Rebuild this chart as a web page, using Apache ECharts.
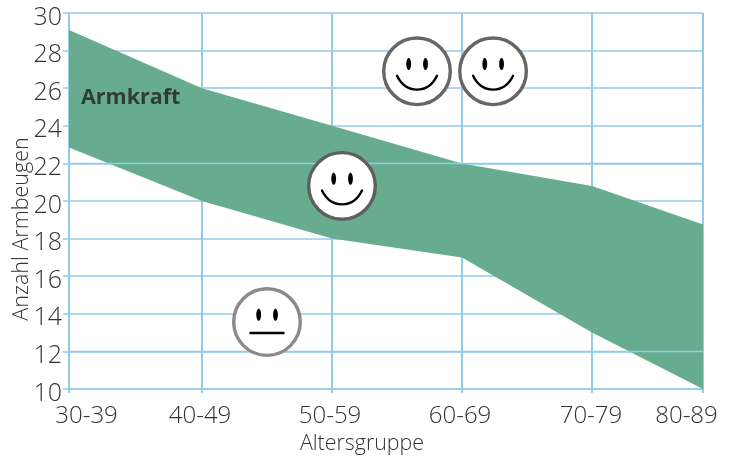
<!DOCTYPE html>
<html>
<head>
<meta charset="utf-8">
<style>html,body{margin:0;padding:0;background:#fff}#c{width:733px;height:457px}</style>
<script src="https://cdn.jsdelivr.net/npm/echarts@6/dist/echarts.min.js"></script>
</head>
<body>
<div id="c"></div>
<script>
// Armkraft norm band by age group
const ageGroups = ['30-39', '40-49', '50-59', '60-69', '70-79', '80-89'];
const groupPositions = [30, 40.23, 50.23, 60.23, 70.23, 78.77];
const labelPositions = [31.35, 40.08, 50.08, 60.08, 70.15, 77.5];
const upperBound = [29.1, 26, 24, 22, 20.8, 18.75];
const lowerBound = [22.85, 20, 18, 17, 13, 10];
const overlayLevels = [22, 12];
const happyFaces = [[51, 20.8, '#5f5f5f'], [56.77, 26.9, '#666666'], [62.62, 26.9, '#666666']];
const neutralFaces = [[45.23, 13.56, '#8a8a8a']];
const bandTitle = [[30.92, 25.48, 'Armkraft']];

const gridBlue = '#93cbe8';
const bandGreen = '#67ac8f';
const inkGrey = '#333333';
const numFont = '"Open Sans", sans-serif';

function faceItem(kind) {
  return function (params, api) {
    const c = api.coord([api.value(0), api.value(1)]);
    const ring = api.value(2);
    const kids = [
      { type: 'circle', shape: { cx: 0, cy: 0, r: 33.3 }, style: { fill: '#fff', stroke: ring, lineWidth: 3.4 } },
      { type: 'ellipse', shape: { cx: -8.3, cy: -7.3, rx: 2.4, ry: 6 }, style: { fill: '#000' } },
      { type: 'ellipse', shape: { cx: 8.5, cy: -7.3, rx: 2.4, ry: 6 }, style: { fill: '#000' } }
    ];
    if (kind === 'happy') {
      kids.push({
        type: 'bezierCurve',
        shape: { x1: -20, y1: 4.5, cpx1: -11, cpy1: 23, cpx2: 11, cpy2: 23, x2: 20, y2: 4.5 },
        style: { fill: 'none', stroke: '#000', lineWidth: 2.4, lineCap: 'round' }
      });
    } else {
      kids.push({
        type: 'line',
        shape: { x1: -17.5, y1: 11, x2: 17.5, y2: 11 },
        style: { stroke: '#000', lineWidth: 2.4 }
      });
    }
    return { type: 'group', x: c[0], y: c[1], children: kids };
  };
}

const chart = echarts.init(document.getElementById('c'), null, { renderer: 'canvas' });
chart.setOption({
  animation: false,
  backgroundColor: '#fff',
  grid: { left: 69, right: 30, top: 13, bottom: 68, outerBoundsMode: 'none' },
  xAxis: {
    type: 'value',
    min: 30,
    max: 78.77,
    name: 'Altersgruppe',
    nameLocation: 'middle',
    nameGap: 44,
    nameTextStyle: { fontFamily: numFont, fontSize: 21.4, color: inkGrey, fontWeight: 300, padding: [0, 48, 0, 0] },
    axisLine: { show: true, lineStyle: { color: gridBlue, width: 1.5 } },
    axisTick: { show: true, length: 4, customValues: groupPositions, lineStyle: { color: gridBlue, width: 2 } },
    axisLabel: {
      customValues: labelPositions,
      hideOverlap: false,
      margin: 15,
      fontFamily: numFont,
      fontSize: 24,
      fontWeight: 300,
      color: inkGrey,
      formatter: (v) => ageGroups[labelPositions.indexOf(v)] || ''
    },
    splitLine: { show: false }
  },
  yAxis: {
    type: 'value',
    min: 10,
    max: 30,
    interval: 2,
    name: 'Anzahl Armbeugen',
    nameLocation: 'middle',
    nameMoveOverlap: false,
    nameGap: 36,
    nameTextStyle: { fontFamily: numFont, fontSize: 21.5, color: inkGrey, fontWeight: 300, padding: [0, 56, 0, 0] },
    axisLine: { show: true, lineStyle: { color: gridBlue, width: 1.5 } },
    axisTick: { show: true, length: 6, lineStyle: { color: gridBlue, width: 1.5 } },
    axisLabel: {
      margin: 7,
      formatter: '{n|{value}}',
      rich: { n: { fontFamily: numFont, fontSize: 25, fontWeight: 300, color: inkGrey, padding: [9, 0, 0, 0] } }
    },
    splitLine: { show: true, lineStyle: { color: gridBlue, width: 1.5 } }
  },
  series: [
    {
      // vertical gridlines at the age-group positions
      type: 'custom',
      silent: true,
      z: 1,
      data: groupPositions.map((x) => [x]),
      renderItem: (params, api) => {
        const top = api.coord([api.value(0), 30]);
        const bottom = api.coord([api.value(0), 10]);
        return {
          type: 'line',
          shape: { x1: top[0], y1: top[1], x2: bottom[0], y2: bottom[1] },
          style: { stroke: gridBlue, lineWidth: 2 }
        };
      }
    },
    {
      // band between the lower and upper norm limits, one closed outline
      type: 'custom',
      silent: true,
      z: 2,
      data: [[30]],
      renderItem: (params, api) => {
        const top = groupPositions.map((x, i) => api.coord([x, upperBound[i]]));
        const bottom = groupPositions.map((x, i) => api.coord([x, lowerBound[i]])).reverse();
        return {
          type: 'polygon',
          shape: { points: top.concat(bottom) },
          style: { fill: bandGreen }
        };
      }
    },
    {
      // the two gridlines that stay visible across the band
      type: 'custom',
      silent: true,
      z: 3,
      data: overlayLevels.map((y) => [y]),
      renderItem: (params, api) => {
        const y = api.value(0);
        const from = api.coord([30, y]);
        const to = api.coord([78.77, y]);
        return {
          type: 'line',
          shape: { x1: from[0], y1: from[1], x2: to[0], y2: to[1] },
          style: { stroke: gridBlue, lineWidth: 1.5 }
        };
      }
    },
    {
      type: 'custom',
      silent: true,
      z: 4,
      data: happyFaces,
      encode: { x: 0, y: 1 },
      renderItem: faceItem('happy')
    },
    {
      type: 'custom',
      silent: true,
      z: 4,
      data: neutralFaces,
      encode: { x: 0, y: 1 },
      renderItem: faceItem('neutral')
    },
    {
      type: 'scatter',
      silent: true,
      z: 5,
      symbolSize: 0,
      data: bandTitle,
      label: {
        show: true,
        position: 'right',
        distance: 0,
        formatter: (p) => p.value[2],
        fontFamily: numFont,
        fontSize: 21.5,
        fontWeight: 700,
        color: '#222222'
      }
    }
  ]
});
</script>
</body>
</html>
